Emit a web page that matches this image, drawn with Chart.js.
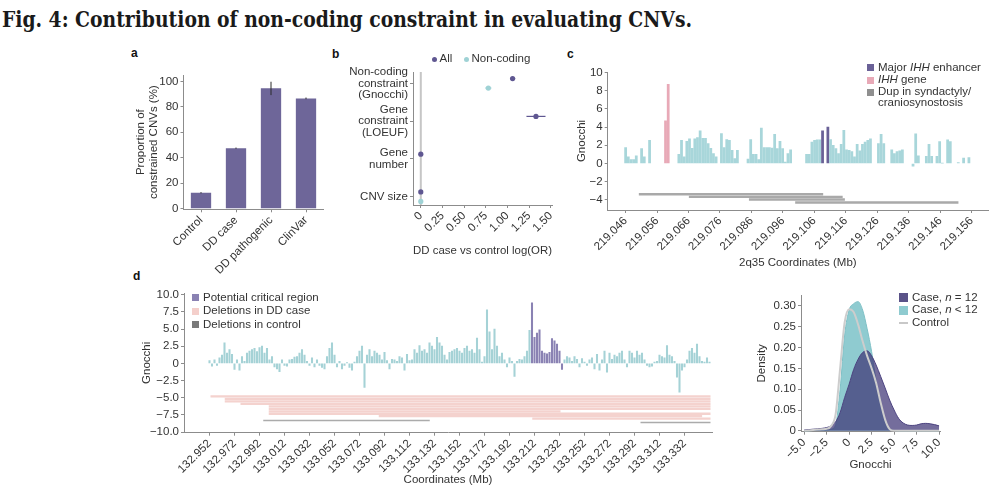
<!DOCTYPE html>
<html><head><meta charset="utf-8">
<script src="https://cdn.jsdelivr.net/npm/chart.js@4.4.1/dist/chart.umd.min.js"></script>
<style>
html,body{margin:0;padding:0;background:#fff}
body{width:1006px;height:496px;position:relative;overflow:hidden;font-family:"Liberation Sans",Arial,sans-serif;color:#333}
canvas{position:absolute}
.tx{position:absolute;white-space:nowrap;font-size:11.5px;line-height:12px;color:#333}
.sq{position:absolute;width:7px;height:7px}
.dot{position:absolute;width:5px;height:5px;border-radius:50%}
.lab{position:absolute;font-weight:bold;font-size:12px;line-height:12px;color:#111}
#title{position:absolute;left:2px;top:7px;font-family:"DejaVu Serif",serif;font-weight:bold;font-stretch:condensed;font-size:23px;line-height:23px;color:#1a1a1a;transform-origin:0 0;white-space:nowrap}
</style></head><body>
<div id="title">Fig. 4: Contribution of non-coding constraint in evaluating CNVs.</div>
<div class="lab" style="left:131px;top:47px">a</div>
<div class="lab" style="left:332px;top:48px">b</div>
<div class="lab" style="left:567px;top:48px">c</div>
<div class="lab" style="left:133px;top:270px">d</div>

<canvas id="ca" width="210" height="215" style="left:120px;top:60px"></canvas>
<canvas id="cb" width="240" height="205" style="left:330px;top:60px"></canvas>
<canvas id="cc" width="446" height="215" style="left:560px;top:60px"></canvas>
<canvas id="cd" width="600" height="216" style="left:130px;top:280px"></canvas>
<canvas id="ce" width="266" height="216" style="left:740px;top:280px"></canvas>

<!-- legend b -->
<div class="dot" style="left:432px;top:56.5px;background:#5f5791"></div>
<div class="tx" style="left:439.5px;top:52px">All</div>
<div class="dot" style="left:464px;top:56.5px;background:#9fd2d5"></div>
<div class="tx" style="left:471.5px;top:52px">Non-coding</div>

<!-- legend c -->
<div class="sq" style="left:867px;top:64px;background:#6a6197"></div>
<div class="tx" style="left:878px;top:60.5px">Major <i>IHH</i> enhancer</div>
<div class="sq" style="left:867px;top:76.5px;background:#e8a9b7"></div>
<div class="tx" style="left:878px;top:73px"><i>IHH</i> gene</div>
<div class="sq" style="left:867px;top:89px;background:#8f8f8f"></div>
<div class="tx" style="left:878px;top:85.5px;line-height:11px">Dup in syndactyly/<br>craniosynostosis</div>

<!-- legend d -->
<div class="sq" style="left:192px;top:294px;background:#8a82b3"></div>
<div class="tx" style="left:203px;top:290.5px">Potential critical region</div>
<div class="sq" style="left:192px;top:307.5px;background:#f4cfcb"></div>
<div class="tx" style="left:203px;top:304px">Deletions in DD case</div>
<div class="sq" style="left:192px;top:321px;background:#7a7a7a"></div>
<div class="tx" style="left:203px;top:317.5px">Deletions in control</div>

<!-- legend e -->
<div class="sq" style="left:899px;top:293px;width:9px;height:9px;background:#5a5288"></div>
<div class="tx" style="left:912px;top:290.5px">Case, <i>n</i> = 12</div>
<div class="sq" style="left:899px;top:305.5px;width:9px;height:9px;background:#8fcbd0"></div>
<div class="tx" style="left:912px;top:303px">Case, <i>n</i> &lt; 12</div>
<div style="position:absolute;left:899px;top:322px;width:9px;height:1.5px;background:#c8c8c8"></div>
<div class="tx" style="left:912px;top:315.5px">Control</div>

<script>
// ---------------- DATA ----------------
// a
const aCategories = ['Control', 'DD case', 'DD pathogenic', 'ClinVar'];
const aValues = [12.5, 47.5, 94.5, 86.5];
const aErrLo = [12.0, 47.0, 89.2, 86.0];
const aErrHi = [13.0, 48.0, 99.7, 87.3];
const aYTicks = [0, 20, 40, 60, 80, 100];

// b
const bCategories = [['Non-coding', 'constraint', '(Gnocchi)'], ['Gene', 'constraint', '(LOEUF)'], ['Gene', 'number'], ['CNV size']];
const bAll = [1.06, 1.33, 0.0, 0.0];
const bAllLo = [1.03, 1.22, -0.01, -0.01];
const bAllHi = [1.09, 1.44, 0.01, 0.01];
const bNonCoding = [0.78, null, null, 0.0];
const bNonCodingLo = [0.745, null, null, -0.01];
const bNonCodingHi = [0.815, null, null, 0.01];
const bXTicks = [0, 0.25, 0.5, 0.75, 1.0, 1.25, 1.5];

// c
const cStartMb = 219.046;
const cBinMb = 0.000846;
const cGnocchi = [
  1.75, 0.73, 0.44, 0.44, 0.84, null, 1.64, 0.73, null, 2.55,
  null, null, null, null, null, 4.7, 8.7, null, null, null,
  1.0, 2.55, 0.73, 2.45, 2.7, 1.68, 2.7, 2.85, 3.58, 2.77,
  2.77, 2.2, 1.68, 1.1, 0.73, null, 3.28, 1.75, 2.63, 2.55,
  1.46, 0.55, 1.46, null, null, null, 0.5, 2.63, 1.0, 1.0,
  0.44, 3.9, 1.75, 1.75, 1.75, 1.7, 3.2, 1.64, 2.45, 1.64,
  0.15, 1.1, 1.5, null, null, null, null, null, 1.0, 1.0,
  2.37, 2.55, 2.6, 2.6, 3.58, null, 4.0, 2.63, 2.0, 1.64,
  1.1, 2.1, 3.65, 1.5, 1.46, 1.3, 0.73, 2.1, 1.4, 2.1,
  2.37, 2.55, 2.7, null, null, 2.2, 3.2, 2.2, null, null,
  1.5, 1.1, 1.3, 1.4, 1.5, null, null, null, -0.3, 3.25,
  0.85, null, null, 0.8, 2.1, 0.8, null, 0.8, 2.4, 0.05,
  null, 2.6, 2.4, null, null, 0.1, null, 0.6, null, 0.65
];
const cGeneBins = [15, 16];
const cEnhancerBins = [74, 76];
const cDupStart = [219.0502, 219.0661, 219.0852, 219.0999];
const cDupEnd = [219.1088, 219.1150, 219.1157, 219.1518];
const cDupLevel = [-3.37, -3.66, -3.95, -4.28];
const cXTicks = [219.046, 219.056, 219.066, 219.076, 219.086, 219.096, 219.106, 219.116, 219.126, 219.136, 219.146, 219.156];
const cYTicks = [-4, -2, 0, 2, 4, 6, 8, 10];

// d
const dStartMb = 132.952;
const dBinMb = 0.002;
const dGnocchi = [
  0.4, -0.4, 0.5, -0.3, 0.8, 1.2, 3.0, 1.5, 2.0, 1.3,
  -0.9, 0.5, -1.0, 1.0, 0.3, 1.5, 1.8, 2.0, 2.2, 1.7,
  2.3, 2.5, 1.5, 2.2, 0.5, 1.0, -0.5, -0.8, -1.2, 0.5,
  -0.3, -0.4, 0.5, 0.6, 0.9, 1.0, 1.5, 2.0, 1.2, 0.3,
  -0.3, 0.8, -0.5, 0.5, -0.3, -0.6, -0.8, 1.0, 2.2, 3.0,
  1.2, -0.5, 0.3, -0.8, -0.3, 0.1, -0.6, -1.0, 0.2, 1.0,
  1.8, 2.5, -3.5, 1.2, 2.0, 1.0, 1.8, 1.5, 1.2, 0.5,
  1.6, 0.4, -0.8, 0.6, 0.5, 0.3, 1.0, 0.8, -1.0, 1.3,
  0.4, 0.5, 2.0, 1.5, 2.6, 1.8, 2.0, 1.5, 3.0, 2.5,
  2.0, 3.8, 3.0, 2.5, 1.2, 0.5, 1.6, 1.8, 2.0, 2.2,
  1.8, 1.5, 2.2, 2.5, 1.8, 2.0, 1.5, 3.7, 2.0, 0.2,
  1.0, 7.8, 4.6, 2.0, 5.0, 2.5, 1.0, 1.5, 0.5, -0.5,
  0.8, 0.3, -1.9, 0.3, 0.6, 0.5, 1.0, 1.8, 4.8, 8.8,
  3.8, 4.4, 4.9, 1.8, 1.5, 1.4, 1.6, 3.6, 3.3, 2.8,
  1.8, -0.9, 0.5, 1.0, 0.8, 0.3, 1.0, 0.6, -0.5, 0.7,
  0.2, -0.3, 0.5, 0.8, -0.8, 1.3, -1.0, 0.5, 1.8, -1.3,
  1.5, 0.6, 1.2, 1.0, 1.5, 1.8, 0.5, -0.5, 1.8, 1.5,
  0.8, 1.8, 1.2, 1.5, 0.5, -0.3, -0.5, -0.4, 0.2, 0.3,
  1.2, 1.0, 0.8, 2.6, 1.2, 1.0, 0.3, -2.0, -4.2, -1.0,
  -0.5, 0.5, 1.8, 2.2, 1.5, 2.8, 1.0, 0.3, 0.2, 0.8,
  0.2
];
const dCritical = [133.209, 133.235];
const dCaseDelStart = [132.9528, 132.9642, 132.9642, 132.9768, 132.9994, 132.9994, 132.9994, 132.9994, 133.0874, 133.2102];
const dCaseDelEnd = [133.3528, 133.3528, 133.3528, 133.3528, 133.3528, 133.3528, 133.2328, 133.3528, 133.3461, 133.3528];
const dCaseDelLevel = [-4.82, -5.18, -5.54, -5.90, -6.26, -6.62, -6.98, -7.34, -7.70, -8.06];
const dCtrlDelStart = [132.995, 133.2968];
const dCtrlDelEnd = [133.1282, 133.3528];
const dCtrlDelLevel = [-8.32, -8.62];
const dXTicks = [132.952, 132.972, 132.992, 133.012, 133.032, 133.052, 133.072, 133.092, 133.112, 133.132,
  133.152, 133.172, 133.192, 133.212, 133.232, 133.252, 133.272, 133.292, 133.312, 133.332];
const dYTicks = [-10, -7.5, -5, -2.5, 0, 2.5, 5, 7.5, 10];

// e
const eX = [-5, -4.5, -4, -3.5, -3, -2.5, -2, -1.5, -1, -0.5, 0, 0.5, 1, 1.5, 2, 2.5, 3, 3.5, 4, 4.5, 5, 5.5, 6, 6.5, 7, 7.5, 8, 8.5, 9, 9.5, 10];
const eCase12 = [0.002, 0.003, 0.004, 0.005, 0.006, 0.008, 0.012, 0.022, 0.044, 0.080, 0.112, 0.147, 0.172, 0.188, 0.192, 0.180, 0.158, 0.131, 0.103, 0.074, 0.050, 0.030, 0.019, 0.014, 0.013, 0.014, 0.017, 0.018, 0.017, 0.015, 0.012];
const eCaseLt12 = [0, 0, 0.001, 0.001, 0.002, 0.002, 0.004, 0.015, 0.100, 0.230, 0.290, 0.305, 0.310, 0.290, 0.245, 0.190, 0.120, 0.065, 0.022, 0.005, 0.001, 0, 0, 0, 0, 0, 0, 0, 0, 0, 0];
const eControl = [0, 0.001, 0.002, 0.003, 0.004, 0.005, 0.012, 0.040, 0.150, 0.260, 0.292, 0.285, 0.255, 0.215, 0.180, 0.150, 0.115, 0.068, 0.027, 0.004, 0, 0, 0, 0, 0, 0, 0, 0, 0, 0, 0];
const eXTicks = [-5, -2.5, 0, 2.5, 5, 7.5, 10];
const eYTicks = [0, 0.05, 0.1, 0.15, 0.2, 0.25, 0.3];

// ---------------- HELPERS ----------------
const FONT = '"Liberation Sans", Arial, sans-serif';
const TXT = '#333333';
const AX = '#8c8c8c';
const MINUS = '\u2212';
function fmtNum(v, d) {
  if (Math.abs(v) < 1e-9) return '0';
  return (v < 0 ? MINUS : '') + Math.abs(v).toFixed(d);
}
function scale(p) {
  const s = {
    type: p.type || 'linear',
    reverse: !!p.reverse,
    offset: !!p.offset,
    bounds: 'data',
    border: {display: true, color: AX, width: 1},
    grid: {display: true, drawOnChartArea: false, drawTicks: true, tickLength: 3, color: AX, offset: false},
    ticks: {color: TXT, font: {family: FONT, size: 11.5, lineHeight: 1.0}, padding: 2, autoSkip: false,
      maxRotation: p.rot || 0, minRotation: p.rot || 0},
    afterFit: sc => {
      if (p.horiz) sc.height = p.box; else sc.width = p.box;
      sc.paddingLeft = 0; sc.paddingRight = 0; sc.paddingTop = 0; sc.paddingBottom = 0;
    }
  };
  if (p.min !== undefined) s.min = p.min;
  if (p.max !== undefined) s.max = p.max;
  if (p.fmt) s.ticks.callback = p.fmt;
  if (p.tickValues) s.afterBuildTicks = sc => { sc.ticks = p.tickValues.map(v => ({value: v})); };
  if (p.title) s.title = {display: true, text: p.title, color: TXT, font: {family: FONT, size: 11.5, lineHeight: 1.1},
    padding: p.horiz ? {top: 0, bottom: p.titlePad} : {top: p.titlePad, bottom: 0}};
  return s;
}
function base(T, R) {
  return {
    responsive: false, animation: false, devicePixelRatio: 1,
    layout: {padding: {top: T, right: R, left: 0, bottom: 0}},
    plugins: {legend: {display: false}, tooltip: {enabled: false}}
  };
}
const errorBars = {
  id: 'errorBars',
  afterDatasetsDraw(chart) {
    const ctx = chart.ctx;
    chart.data.datasets.forEach((ds, di) => {
      if (!ds.errLo) return;
      const meta = chart.getDatasetMeta(di);
      const xs = chart.scales[meta.xAxisID], ys = chart.scales[meta.yAxisID];
      ctx.save();
      ctx.strokeStyle = ds.errColor || '#333';
      ctx.lineWidth = ds.errWidth || 1;
      meta.data.forEach((el, i) => {
        const lo = ds.errLo[i], hi = ds.errHi[i];
        if (lo == null || hi == null) return;
        ctx.beginPath();
        if (ds.errAxis === 'x') {
          ctx.moveTo(xs.getPixelForValue(lo), el.y); ctx.lineTo(xs.getPixelForValue(hi), el.y);
        } else {
          ctx.moveTo(el.x, ys.getPixelForValue(lo)); ctx.lineTo(el.x, ys.getPixelForValue(hi));
        }
        ctx.stroke();
      });
      ctx.restore();
    });
  }
};
function segment(x0, x1, y, color, width) {
  return {type: 'line', data: [{x: x0, y: y}, {x: x1, y: y}], borderColor: color, borderWidth: width,
    pointRadius: 0, fill: false, tension: 0, order: 5};
}

// ---------------- TITLE ----------------
(function () {
  const t = document.getElementById('title');
  const w = t.getBoundingClientRect().width;
  t.style.transform = 'scaleX(' + (690 / w) + ')';
})();

// ---------------- PANEL A ----------------
(function () {
  const o = base(15, 6.5);
  o.scales = {
    x: scale({type: 'category', horiz: true, box: 65.7, rot: 45, offset: true}),
    y: scale({min: -0.5, max: 105, box: 63.5, tickValues: aYTicks, fmt: v => String(v),
      title: ['Proportion of', 'constrained CNVs (%)'], titlePad: 14.7})
  };
  new Chart(document.getElementById('ca'), {
    type: 'bar',
    data: {labels: aCategories, datasets: [{data: aValues, backgroundColor: '#6e6699', borderWidth: 0,
      barPercentage: 0.58, categoryPercentage: 1, errLo: aErrLo, errHi: aErrHi, errAxis: 'y', errColor: '#2b2b2b', errWidth: 1}]},
    options: o, plugins: [errorBars]
  });
})();

// ---------------- PANEL B ----------------
(function () {
  const dodge = 0.125;
  const allPts = [], allLo = [], allHi = [], ncPts = [], ncLo = [], ncHi = [];
  bAll.forEach((v, i) => { if (v != null) { allPts.push({x: v, y: i - dodge}); allLo.push(bAllLo[i]); allHi.push(bAllHi[i]); } });
  bNonCoding.forEach((v, i) => { if (v != null) { ncPts.push({x: v, y: i + dodge}); ncLo.push(bNonCodingLo[i]); ncHi.push(bNonCodingHi[i]); } });
  const o = base(12, 18);
  o.scales = {
    x: scale({min: -0.09, max: 1.515, horiz: true, box: 60, rot: 45, tickValues: bXTicks,
      fmt: v => v === 0 ? '0' : v.toFixed(2), title: 'DD case vs control log(OR)', titlePad: 7.7}),
    y: scale({min: -0.3, max: 3.22, reverse: true, box: 83, tickValues: [0, 1, 2, 3], fmt: v => bCategories[Math.round(v)]})
  };
  new Chart(document.getElementById('cb'), {
    type: 'scatter',
    data: {datasets: [
      {type: 'line', data: [{x: 0, y: -0.3}, {x: 0, y: 3.22}], borderColor: '#c6c6c6', borderWidth: 2, pointRadius: 0, order: 5},
      {data: ncPts, backgroundColor: '#9fd2d5', borderWidth: 0, pointRadius: 2.6, errLo: ncLo, errHi: ncHi, errAxis: 'x', errColor: '#9fd2d5', errWidth: 1.2, order: 2},
      {data: allPts, backgroundColor: '#5f5791', borderWidth: 0, pointRadius: 2.6, errLo: allLo, errHi: allHi, errAxis: 'x', errColor: '#5f5791', errWidth: 1.2, order: 1}
    ]},
    options: o, plugins: [errorBars]
  });
})();

// ---------------- PANEL C ----------------
(function () {
  const pts = [], cols = [];
  cGnocchi.forEach((v, i) => {
    if (v == null) return;
    pts.push({x: cStartMb + i * cBinMb, y: v});
    cols.push(cGeneBins.includes(i) ? '#e8a9b7' : cEnhancerBins.includes(i) ? '#6a6197' : '#a8d6da');
  });
  const ds = [{type: 'bar', data: pts, backgroundColor: cols, borderWidth: 0, barThickness: 2.1, grouped: false, order: 1}];
  cDupStart.forEach((s, i) => ds.push(segment(s, cDupEnd[i], cDupLevel[i], '#a9a9a9', 2.4)));
  const o = base(12, 18);
  o.scales = {
    x: scale({min: 219.0403, max: 219.1612, horiz: true, box: 65, rot: 45, tickValues: cXTicks,
      fmt: v => v.toFixed(3), title: '2q35 Coordinates (Mb)', titlePad: 5.5}),
    y: scale({min: -5.1, max: 10.05, box: 47.7, tickValues: cYTicks, fmt: v => fmtNum(v, 0), title: 'Gnocchi', titlePad: 15.7})
  };
  new Chart(document.getElementById('cc'), {type: 'bar', data: {datasets: ds}, options: o});
})();

// ---------------- PANEL D ----------------
(function () {
  const pts = [], cols = [];
  dGnocchi.forEach((v, i) => {
    if (v == null) return;
    const x = dStartMb + i * dBinMb;
    pts.push({x: x, y: v});
    cols.push(x >= dCritical[0] && x <= dCritical[1] ? '#8a82b3' : '#a5d2d6');
  });
  const ds = [{type: 'bar', data: pts, backgroundColor: cols, borderWidth: 0, barThickness: 1.4, grouped: false, order: 1}];
  dCaseDelStart.forEach((s, i) => ds.push(segment(s, dCaseDelEnd[i], dCaseDelLevel[i], '#f4d2ce', 2.3)));
  dCtrlDelStart.forEach((s, i) => ds.push(segment(s, dCtrlDelEnd[i], dCtrlDelLevel[i], '#ababab', 1.5)));
  const o = base(13, 18);
  o.scales = {
    x: scale({min: 132.9316, max: 133.354, horiz: true, box: 63.3, rot: 45, tickValues: dXTicks,
      fmt: v => v.toFixed(3), title: 'Coordinates (Mb)', titlePad: 9.5}),
    y: scale({min: -10.1, max: 10.25, box: 54, tickValues: dYTicks, fmt: v => fmtNum(v, 1), title: 'Gnocchi', titlePad: 11})
  };
  new Chart(document.getElementById('cd'), {type: 'bar', data: {datasets: ds}, options: o});
})();

// ---------------- PANEL E ----------------
(function () {
  const mk = arr => eX.map((x, i) => ({x: x, y: arr[i]}));
  const o = base(15, 66);
  o.scales = {
    x: scale({min: -5.35, max: 10.1, horiz: true, box: 64.3, rot: 45, tickValues: eXTicks,
      fmt: v => fmtNum(v, v === 0 ? 0 : 1), title: 'Gnocchi', titlePad: 24.5}),
    y: scale({min: -0.002, max: 0.326, box: 61, tickValues: eYTicks, fmt: v => v === 0 ? '0' : v.toFixed(2), title: 'Density', titlePad: 15.2})
  };
  new Chart(document.getElementById('ce'), {
    type: 'line',
    data: {datasets: [
      {data: mk(eCaseLt12), fill: 'origin', backgroundColor: '#8fcbd0', borderColor: '#7fc0c6', borderWidth: 1, pointRadius: 0, cubicInterpolationMode: 'monotone', order: 3},
      {data: mk(eCase12), fill: 'origin', backgroundColor: 'rgba(62,52,118,0.72)', borderColor: '#4d4480', borderWidth: 1, pointRadius: 0, cubicInterpolationMode: 'monotone', order: 2},
      {data: mk(eControl), fill: false, borderColor: '#cdcdcd', borderWidth: 2, pointRadius: 0, cubicInterpolationMode: 'monotone', order: 1}
    ]},
    options: o
  });
})();
</script>
</body></html>
